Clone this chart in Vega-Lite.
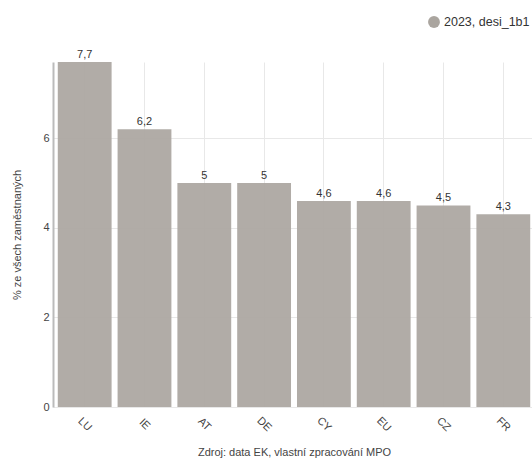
{
  "$schema": "https://vega.github.io/schema/vega-lite/v6.json",
  "autosize": {"type": "none"},
  "padding": {"left": 53, "top": 62, "right": 0, "bottom": 55},
  "width": 482,
  "height": 345,
  "background": "white",
  "config": {
    "locale": {"number": {"decimal": ",", "thousands": " ", "grouping": [3], "currency": ["", " Kč"]}},
    "font": "Liberation Sans",
    "view": {"stroke": null},
    "axis": {"labelFont": "Liberation Sans", "titleFont": "Liberation Sans", "labelColor": "#444", "titleColor": "#444", "labelFontSize": 11, "titleFontSize": 11, "titleFontWeight": "normal", "gridColor": "#e8e8e8", "tickSize": 0}
  },
  "data": {
    "values": [
      {"stat": "LU", "hodnota": 7.7, "serie": "2023, desi_1b1"},
      {"stat": "IE", "hodnota": 6.2, "serie": "2023, desi_1b1"},
      {"stat": "AT", "hodnota": 5.0, "serie": "2023, desi_1b1"},
      {"stat": "DE", "hodnota": 5.0, "serie": "2023, desi_1b1"},
      {"stat": "CY", "hodnota": 4.6, "serie": "2023, desi_1b1"},
      {"stat": "EU", "hodnota": 4.6, "serie": "2023, desi_1b1"},
      {"stat": "CZ", "hodnota": 4.5, "serie": "2023, desi_1b1"},
      {"stat": "FR", "hodnota": 4.3, "serie": "2023, desi_1b1"}
    ]
  },
  "encoding": {
    "x": {
      "field": "stat", "type": "nominal", "sort": null,
      "scale": {"paddingInner": 0.1, "paddingOuter": 0.08},
      "axis": {"title": "Zdroj: data EK, vlastní zpracování MPO", "labelAngle": 45, "labelAlign": "center", "labelBaseline": "middle", "labelPadding": 17, "titlePadding": 14, "grid": true, "domain": false, "ticks": false}
    },
    "y": {
      "field": "hodnota", "type": "quantitative",
      "scale": {"domain": [0, 7.7], "nice": false},
      "axis": {"title": "% ze všech zaměstnaných", "values": [0, 2, 4, 6], "grid": true, "domain": true, "domainColor": "#bbbbbb", "domainWidth": 2, "labelPadding": 4, "titlePadding": 20}
    }
  },
  "layer": [
    {
      "mark": {"type": "bar", "opacity": 0.92},
      "encoding": {
        "color": {"field": "serie", "type": "nominal", "scale": {"range": ["#aaa59f"]},
          "legend": {"title": null, "orient": "none", "legendX": 374, "legendY": -47, "symbolType": "circle", "symbolSize": 140, "symbolOpacity": 1, "labelFontSize": 12.5, "labelFont": "Liberation Sans", "labelColor": "#333", "labelOffset": 3}}
      }
    },
    {
      "mark": {"type": "text", "dy": -7, "font": "Liberation Sans", "fontSize": 11, "color": "#333"},
      "encoding": {"text": {"field": "hodnota", "type": "quantitative", "format": ".1~f"}}
    }
  ]
}
